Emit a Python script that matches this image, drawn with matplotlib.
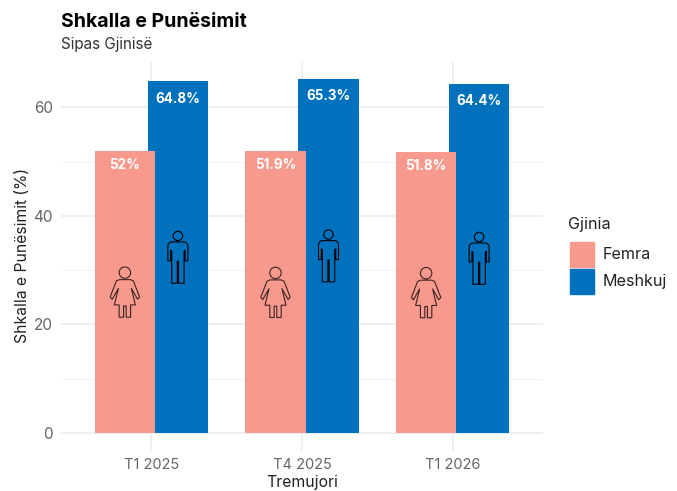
import matplotlib
matplotlib.use("Agg")
import matplotlib.pyplot as plt
from matplotlib.path import Path
from matplotlib.patches import PathPatch, Patch
from matplotlib.transforms import Affine2D, ScaledTranslation

plt.rcParams['font.family'] = ['Inter', 'DejaVu Sans']

quarters = ["T1 2025", "T4 2025", "T1 2026"]
femra = [52.0, 51.9, 51.8]
meshkuj = [64.8, 65.3, 64.4]
labels_f = ["52%", "51.9%", "51.8%"]
labels_m = ["64.8%", "65.3%", "64.4%"]
PINK = "#F8998D"
BLUE = "#0071BC"
W, H = 677, 491


def poly(points, closed=True):
    codes = [Path.MOVETO] + [Path.LINETO] * (len(points) - 1)
    pts = list(points)
    if closed:
        pts.append(points[0])
        codes.append(Path.CLOSEPOLY)
    return Path(pts, codes)


def circle(cx, cy, r):
    return Path(Path.unit_circle().vertices * r + [cx, cy], Path.unit_circle().codes)


male_body = [(-6, 15.3), (6, 15.3), (8.5, 14.6), (10, 12), (10, -3.7), (7.2, -3.7), (7.2, 7),
             (6.2, 6), (6.2, -26), (0.6, -26), (0.6, -4), (-0.6, -4), (-0.6, -26), (-6.2, -26),
             (-6.2, 6), (-7.2, 7), (-7.2, -3.7), (-10, -3.7), (-10, 12), (-8.5, 14.6)]
male_icon = Path.make_compound_path(circle(0, 21.3, 4.7), poly(male_body))

female_body = [(-5.5, 12.3), (5.5, 12.3), (8.5, 11), (14.7, -5), (12.7, -7.3), (6.5, 3.5),
               (10.5, -13), (5.7, -13), (5.7, -25.3), (1.3, -25.3), (1.3, -14), (-1.3, -14),
               (-1.3, -25.3), (-5.7, -25.3), (-5.7, -13), (-10.5, -13), (-6.5, 3.5),
               (-12.7, -7.3), (-14.7, -5), (-8.5, 11)]
female_icon = Path.make_compound_path(circle(0, 19.3, 5.7), poly(female_body))

fig = plt.figure(figsize=(W / 100, H / 100), dpi=100)
ax = fig.add_axes([61 / W, 1 - 451 / H, 482 / W, 389 / H])
ax.set_xlim(0.4, 3.6)
ax.set_ylim(-3.32, 68.38)
for s in ax.spines.values():
    s.set_visible(False)
ax.set_axisbelow(True)
ax.set_yticks([0, 20, 40, 60])
ax.set_yticks([10, 30, 50], minor=True)
xs = [1, 2, 3]
ax.set_xticks(xs)
ax.set_xticklabels(quarters)
ax.grid(True, which='major', color="#ebebeb", lw=1.1)
ax.grid(True, which='minor', axis='y', color="#f0f0f0", lw=0.6)
ax.tick_params(which='both', length=0)
ax.tick_params(axis='x', labelsize=10.5, labelcolor="#666666", pad=5)
ax.tick_params(axis='y', labelsize=11, labelcolor="#666666", pad=6)

off = 0.176
width = 0.403
ax.bar([x + off for x in xs], meshkuj, width, color=BLUE, zorder=2)
ax.bar([x - off for x in xs], femra, width, color=PINK, zorder=3)

for x, f, m, lf, lm in zip(xs, femra, meshkuj, labels_f, labels_m):
    ax.text(x - off, f * 0.95, lf, color="white", fontweight="bold", fontsize=9.7,
            ha="center", va="center", zorder=5)
    ax.text(x + off, m * 0.95, lm, color="white", fontweight="bold", fontsize=9.7,
            ha="center", va="center", zorder=5)
    for icon, bx, val, col in ((female_icon, x - off, f, "#3a2522"), (male_icon, x + off, m, "black")):
        tr = Affine2D() + ScaledTranslation(bx, val / 2, ax.transData)
        ax.add_patch(PathPatch(icon, transform=tr, fill=False, ec=col, lw=0.8,
                               joinstyle="round", zorder=4))

ax.set_xlabel("Tremujori", fontsize=11.4, color="#222222", labelpad=2.5)
ax.set_ylabel("Shkalla e Punësimit (%)", fontsize=11.3, color="#222222", labelpad=2, y=0.504)

fig.text(61 / W, 1 - 22 / H, "Shkalla e Punësimit", fontsize=14, fontweight="bold",
         color="black", ha="left", va="center")
fig.text(61 / W, 1 - 44 / H, "Sipas Gjinisë", fontsize=11, color="#333333",
         ha="left", va="center")

leg = fig.legend(handles=[Patch(color=PINK, label="Femra"), Patch(color=BLUE, label="Meshkuj")],
                 title="Gjinia", loc="upper left", bbox_to_anchor=(570 / W, 1 - 217 / H),
                 frameon=False, fontsize=11.6, title_fontsize=11.6, handlelength=1.49,
                 handleheight=2.01, labelspacing=0.12, handletextpad=0.56, borderpad=0,
                 borderaxespad=0, alignment="left", labelcolor="#222222")
leg._legend_box.sep = 7
leg.get_title().set_position((-2, 0))
leg.get_title().set_color("#222222")
fig.savefig("out.png", dpi=100)
